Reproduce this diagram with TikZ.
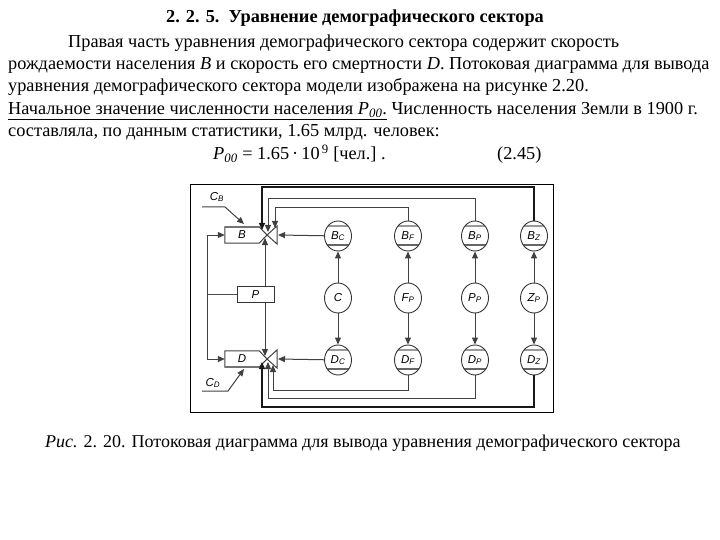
\documentclass[tikz,border=0pt]{standalone}
\usepackage{fontspec}
\setmainfont{Liberation Serif}
\newfontfamily\diag{Liberation Sans}
\usetikzlibrary{arrows.meta,shapes.geometric}
\tikzset{
  txt/.style={anchor=base west,inner sep=0pt,font=\fontsize{18.3}{22}\selectfont},
  ln/.style={line width=1pt,draw=black!75},
  thk/.style={line width=1.4pt,draw=black!90},
  tipA/.style={-{Triangle[length=7pt,width=6pt]}},
  lbl/.style={inner sep=0pt,font=\diag\itshape\fontsize{11.5}{12}\selectfont},
  cir/.style={draw=black!80,line width=0.9pt,ellipse,minimum width=27pt,minimum height=30pt,inner sep=0pt,font=\diag\itshape\fontsize{11.5}{12}\selectfont},
  lev/.style={cir,path picture={
      \draw[line width=2.2pt,black!40] ([yshift=-5pt]path picture bounding box.north west) -- ([yshift=-5pt]path picture bounding box.north east);
      \draw[line width=1.4pt,black!60] ([yshift=6pt]path picture bounding box.south west) -- ([yshift=6pt]path picture bounding box.south east);}}
}
\newcommand{\sbs}[1]{\textsubscript{#1}}
\begin{document}
\begin{tikzpicture}[x=1pt,y=-1pt]
\useasboundingbox (0,0) rectangle (720,540);

% ---------------- text ----------------
\node[txt,anchor=base,font=\bfseries\fontsize{18.3}{22}\selectfont] (head) at (355,23) {2. 2. 5.\ \ Уравнение демографического сектора};
\node[txt] (l1) at (68,48) {Правая часть уравнения демографического сектора содержит скорость};
\node[txt] (l2) at (8,70) {рождаемости населения \textit{B} и скорость его смертности \textit{D}. Потоковая диаграмма для вывода};
\node[txt] (l3) at (8,92) {уравнения демографического сектора модели изображена на рисунке 2.20.};
\node[txt] (l4) at (8,115) {\underline{Начальное значение численности населения \textit{P}\textsubscript{\textit{00}}.} Численность населения Земли в 1900 г.};
\node[txt] (l5) at (8,137) {составляла, по данным статистики, 1.65 млрд. человек:};
\node[txt] (eq) at (213,160) {\textit{P}\textsubscript{\textit{00}} = 1.65\,·\,10\textsuperscript{\,9} [чел.]\ .};
\node[txt] (eqn) at (497,160) {(2.45)};
\node[txt,font=\fontsize{18}{22}\selectfont] (cap) at (45,447) {\textit{Рис.} 2. 20. Потоковая диаграмма для вывода уравнения демографического сектора};

% ---------------- frame ----------------
\draw[line width=0.8pt] (190,184) rectangle (553,412);

% ---------------- stocks and valves ----------------
\coordinate (vB) at (267,235);
\coordinate (vD) at (267,359);
\node[lbl,minimum width=34pt,minimum height=16pt] (Bbox) at (242,235) {B};
\node[lbl,minimum width=34pt,minimum height=16pt] (Dbox) at (242,359) {D};
\draw[ln] (Bbox.north west) -- (Bbox.north east) -- (vB) -- (Bbox.south east) -- (Bbox.south west) -- cycle;
\draw[line width=1.8pt,black!55] (Bbox.north west) -- (Bbox.north east);
\draw[ln] (vB) -- ++(10,-9) -- ++(0,18) -- cycle;
\draw[ln] (Dbox.north west) -- (Dbox.north east) -- (vD) -- (Dbox.south east) -- (Dbox.south west) -- cycle;
\draw[line width=1.8pt,black!55] (Dbox.south west) -- (Dbox.south east);
\draw[ln] (vD) -- ++(10,-9) -- ++(0,18) -- cycle;

\node[lbl,draw=black!80,line width=1pt,minimum width=37pt,minimum height=16pt] (Pbox) at (255.5,294.5) {P};

% rate labels
\node[lbl] (cb) at (217,197) {C\sbs{B}};
\node[lbl] (cd) at (213,383) {C\sbs{D}};
\coordinate (cb1) at (202,207); \coordinate (cb2) at (225,207); \coordinate (cb3) at (244,224);
\coordinate (cd1) at (202,391); \coordinate (cd2) at (228,391); \coordinate (cd3) at (244,369);
\draw[ln,tipA] (cb1) -- (cb2) -- (cb3);
\draw[ln,tipA] (cd1) -- (cd2) -- (cd3);

% left loop from P
\coordinate (L) at (207,294.5);
\draw[line width=1.8pt,black!70] (Pbox.west) -- (L);
\draw[ln,tipA] (L) |- (Bbox.west);
\draw[ln,tipA] (L) |- (Dbox.west);

% P to valves
\coordinate (pB) at (265,238);
\coordinate (pD) at (265,356);
\draw[ln,tipA] ([xshift=9.5pt]Pbox.north) -- (pB);
\draw[ln,tipA] ([xshift=9.5pt]Pbox.south) -- (pD);

% ---------------- auxiliaries ----------------
\node[lev] (Bc) at (338,236) {B\sbs{C}};
\node[lev] (Bf) at (408,236) {B\sbs{F}};
\node[lev] (Bp) at (475,236) {B\sbs{P}};
\node[lev] (Bz) at (534,236) {B\sbs{Z}};
\node[cir] (C)  at (338,298) {C};
\node[cir] (Fp) at (408,298) {F\sbs{P}};
\node[cir] (Pp) at (475,298) {P\sbs{P}};
\node[cir] (Zp) at (534,298) {Z\sbs{P}};
\node[lev] (Dc) at (338,360) {D\sbs{C}};
\node[lev] (Df) at (408,360) {D\sbs{F}};
\node[lev] (Dp) at (475,360) {D\sbs{P}};
\node[lev] (Dz) at (534,360) {D\sbs{Z}};

\foreach \m/\b/\d in {C/Bc/Dc,Fp/Bf/Df,Pp/Bp/Dp,Zp/Bz/Dz}{
  \draw[ln,tipA] (\m) -- (\b);
  \draw[ln,tipA] (\m) -- (\d);
}

% C multipliers to valves
\coordinate (vBe) at (278,235);
\coordinate (vDe) at (278,359);
\draw[ln,tipA] (Bc) -- (vBe);
\draw[ln,tipA] (Dc) -- (vDe);

% loops from top
\coordinate (t1) at (262,187); \coordinate (e1) at (262,230);
\coordinate (t2) at (268,199); \coordinate (e2) at (268,232);
\coordinate (t3) at (275,208); \coordinate (e3) at (275,228);
\draw[thk,tipA] (Bz.north) |- (t1) -- (e1);
\draw[ln,tipA] (Bp.north) |- (t2) -- (e2);
\draw[ln,tipA] (Bf.north) |- (t3) -- (e3);

% loops from bottom
\coordinate (b1) at (262,407); \coordinate (f1) at (262,362);
\coordinate (b2) at (268,398); \coordinate (f2) at (268,362);
\coordinate (b3) at (273,390); \coordinate (f3) at (273,365);
\draw[thk,tipA] (Dz.south) |- (b1) -- (f1);
\draw[ln,tipA] (Dp.south) |- (b2) -- (f2);
\draw[ln,tipA] (Df.south) |- (b3) -- (f3);
\end{tikzpicture}
\end{document}
